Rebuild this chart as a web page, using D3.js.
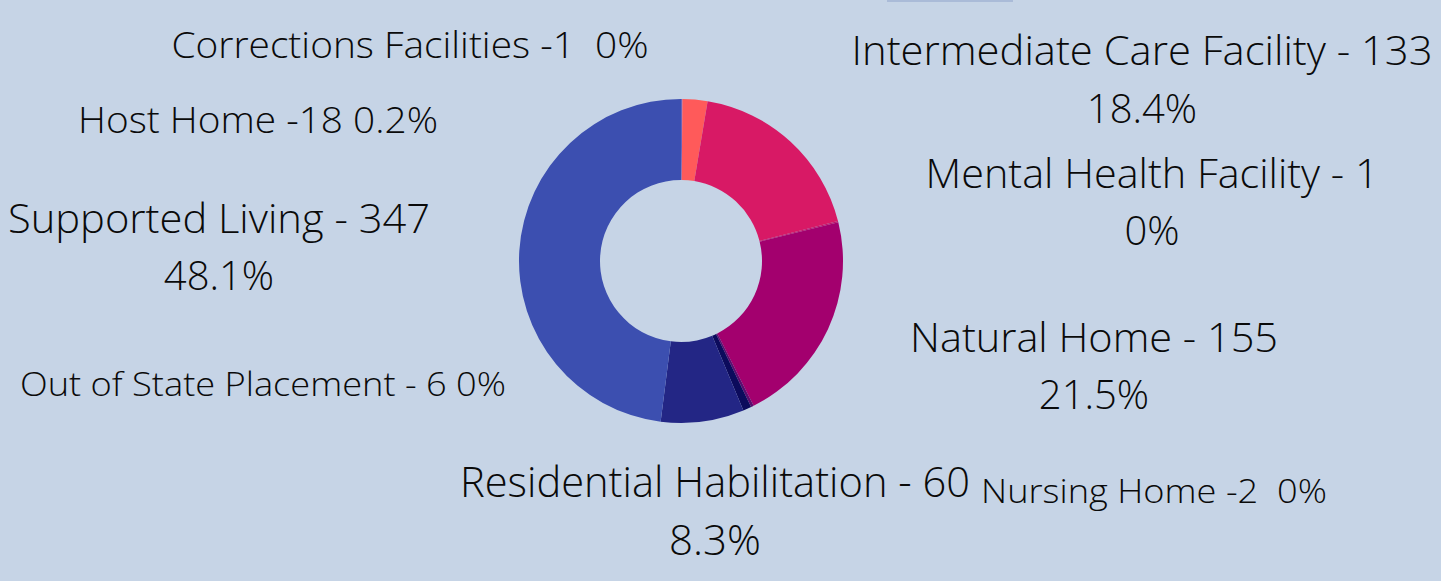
<!DOCTYPE html>
<html>
<head>
<meta charset="utf-8">
<script src="https://cdn.jsdelivr.net/npm/d3@7"></script>
<style>
  html, body { margin: 0; padding: 0; background: #c6d4e6; }
  svg text { font-family: "Open Sans", sans-serif; font-weight: 300; fill: #0a0a0a; white-space: pre; }
</style>
</head>
<body>
<div id="chart"></div>
<script>
// data, clockwise from 12 o'clock
const categories = ["Corrections Facilities", "Host Home", "Intermediate Care Facility", "Mental Health Facility",
    "Natural Home", "Nursing Home", "Out of State Placement", "Residential Habilitation", "Supported Living"];
const values = [1, 18, 133, 1, 155, 2, 6, 60, 347];
const colors = ["#6b63b8", "#ff5a5a", "#d81965", "#c0126a", "#a3006e", "#5c0a6e", "#0c0b5c", "#232685", "#3c4fb0"];

// label text as shown on the picture (one entry per line)
const labelLines = [
    ["Corrections Facilities -1  0%"],
    ["Host Home -18 0.2%"],
    ["Intermediate Care Facility - 133", "18.4%"],
    ["Mental Health Facility - 1", "0%"],
    ["Natural Home - 155", "21.5%"],
    ["Nursing Home -2  0%"],
    ["Out of State Placement - 6 0%"],
    ["Residential Habilitation - 60", "8.3%"],
    ["Supported Living - 347", "48.1%"]
];

// where each label block sits: centre x, first baseline, line gap, font size, first line width
const labelLayout = [
    { cx: 410, y: 58, gap: 0, size: 37, w: 477 },
    { cx: 258, y: 133, gap: 0, size: 37, w: 360 },
    { cx: 1142, y: 65, gap: 58, size: 40, w: 581 },
    { cx: 1152, y: 188, gap: 57, size: 40, w: 453 },
    { cx: 1094, y: 352, gap: 57, size: 40, w: 368 },
    { cx: 1154, y: 503, gap: 0, size: 33, w: 346 },
    { cx: 263, y: 396, gap: 0, size: 33, w: 486 },
    { cx: 715, y: 497, gap: 58, size: 42, w: 510 },
    { cx: 219, y: 233, gap: 57, size: 40, w: 422 }
];

const width = 1441, height = 581;
const cx = 681, cy = 261;
const outerR = 162, innerR = 81;

const svg = d3.select("#chart")
    .append("svg")
    .attr("width", width)
    .attr("height", height);

svg.append("rect")
    .attr("width", width)
    .attr("height", height)
    .attr("fill", "#c6d4e6");

// little tab at the top edge
svg.append("rect")
    .attr("x", 887).attr("y", 0)
    .attr("width", 126).attr("height", 2)
    .attr("fill", "#aabbd8");

const pie = d3.pie()
    .sort(null)
    .value(d => d);

const arc = d3.arc()
    .innerRadius(innerR)
    .outerRadius(outerR);

const g = svg.append("g")
    .attr("transform", `translate(${cx},${cy})`);

g.selectAll("path")
    .data(pie(values))
    .enter()
    .append("path")
    .attr("d", arc)
    .attr("fill", (d, i) => colors[i]);

// labels
labelLines.forEach((lines, i) => {
    const lay = labelLayout[i];
    lines.forEach((line, j) => {
        const t = svg.append("text")
            .attr("x", lay.cx)
            .attr("y", lay.y + j * lay.gap)
            .attr("text-anchor", "middle")
            .attr("font-size", lay.size)
            .text(line);
        if (j === 0) {
            t.attr("textLength", lay.w).attr("lengthAdjust", "spacingAndGlyphs");
        }
    });
});
</script>
</body>
</html>
